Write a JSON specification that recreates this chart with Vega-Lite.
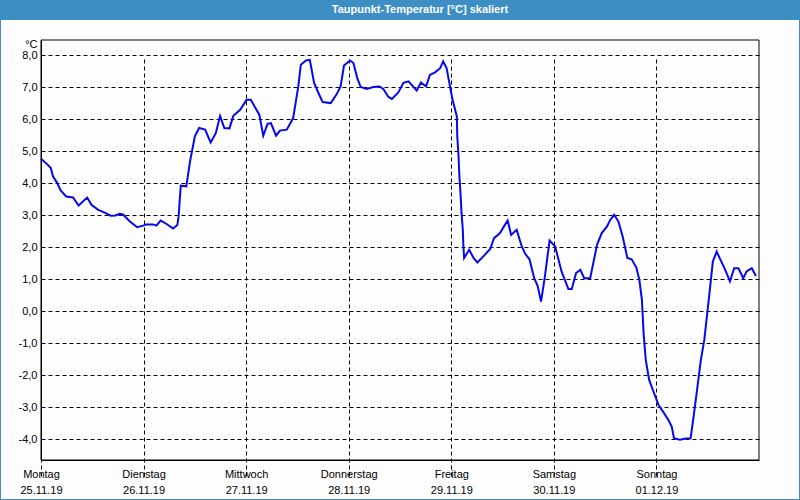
{
  "$schema": "https://vega.github.io/schema/vega-lite/v6.json",
  "autosize": "none",
  "width": 798,
  "height": 479,
  "padding": {"left": 1, "right": 1, "top": 20, "bottom": 1},
  "background": "#3d8ec5",
  "title": {
    "text": "Taupunkt-Temperatur [°C] skaliert",
    "color": "#ffffff",
    "font": "Liberation Sans",
    "fontSize": 11,
    "fontWeight": "bold",
    "anchor": "middle",
    "frame": "group",
    "baseline": "middle",
    "offset": 10,
    "dx": 20,
    "dy": 11
  },
  "config": {
    "view": {"fill": "#fcfdfc", "stroke": null},
    "axis": {
      "labelFont": "Liberation Sans",
      "labelFontSize": 11,
      "labelColor": "#000000",
      "titleFont": "Liberation Sans",
      "titleFontSize": 11,
      "titleFontWeight": "normal",
      "titleColor": "#000000",
      "domainColor": "#000000",
      "domainWidth": 1,
      "gridColor": "#000000",
      "gridDash": [4, 3],
      "gridOpacity": 1,
      "gridWidth": 1,
      "ticks": false
    }
  },
  "data": {
    "values": [
      {"h": 0.0, "v": 4.76}, {"h": 1.6, "v": 4.57}, {"h": 2.3, "v": 4.47}, {"h": 2.8, "v": 4.21},
      {"h": 3.8, "v": 4.0}, {"h": 4.6, "v": 3.77}, {"h": 5.9, "v": 3.58}, {"h": 7.5, "v": 3.55},
      {"h": 8.8, "v": 3.3}, {"h": 10.8, "v": 3.55}, {"h": 11.8, "v": 3.32}, {"h": 13.3, "v": 3.17},
      {"h": 14.9, "v": 3.08}, {"h": 16.3, "v": 2.98}, {"h": 17.4, "v": 2.99}, {"h": 18.4, "v": 3.04},
      {"h": 19.2, "v": 3.02}, {"h": 20.8, "v": 2.8}, {"h": 22.5, "v": 2.62}, {"h": 23.9, "v": 2.67},
      {"h": 24.6, "v": 2.71}, {"h": 26.2, "v": 2.71}, {"h": 27.0, "v": 2.67}, {"h": 28.0, "v": 2.83},
      {"h": 29.3, "v": 2.73}, {"h": 30.9, "v": 2.58}, {"h": 31.9, "v": 2.69}, {"h": 32.2, "v": 2.96},
      {"h": 32.7, "v": 3.92}, {"h": 34.0, "v": 3.9}, {"h": 34.9, "v": 4.7}, {"h": 36.0, "v": 5.46},
      {"h": 37.0, "v": 5.72}, {"h": 38.4, "v": 5.67}, {"h": 39.7, "v": 5.27}, {"h": 40.9, "v": 5.56},
      {"h": 41.9, "v": 6.1}, {"h": 42.9, "v": 5.72}, {"h": 44.1, "v": 5.71}, {"h": 45.0, "v": 6.1},
      {"h": 46.6, "v": 6.29}, {"h": 48.1, "v": 6.6}, {"h": 49.1, "v": 6.6}, {"h": 51.1, "v": 6.13},
      {"h": 52.0, "v": 5.48}, {"h": 53.0, "v": 5.85}, {"h": 53.8, "v": 5.87}, {"h": 55.0, "v": 5.48},
      {"h": 55.9, "v": 5.64}, {"h": 57.5, "v": 5.67}, {"h": 59.0, "v": 6.03}, {"h": 60.2, "v": 7.02},
      {"h": 60.8, "v": 7.7}, {"h": 62.0, "v": 7.83}, {"h": 62.9, "v": 7.85}, {"h": 63.9, "v": 7.13},
      {"h": 65.1, "v": 6.76}, {"h": 65.9, "v": 6.53}, {"h": 67.8, "v": 6.5}, {"h": 69.2, "v": 6.78},
      {"h": 70.1, "v": 7.02}, {"h": 70.9, "v": 7.67}, {"h": 72.3, "v": 7.83}, {"h": 73.1, "v": 7.75},
      {"h": 74.0, "v": 7.28}, {"h": 74.8, "v": 7.0}, {"h": 76.2, "v": 6.94}, {"h": 77.8, "v": 7.0},
      {"h": 79.2, "v": 7.02}, {"h": 80.1, "v": 6.94}, {"h": 81.3, "v": 6.69}, {"h": 82.1, "v": 6.63},
      {"h": 83.6, "v": 6.83}, {"h": 84.8, "v": 7.13}, {"h": 86.0, "v": 7.18}, {"h": 87.9, "v": 6.89},
      {"h": 88.9, "v": 7.14}, {"h": 90.1, "v": 7.02}, {"h": 91.0, "v": 7.38}, {"h": 92.2, "v": 7.46},
      {"h": 93.4, "v": 7.59}, {"h": 94.1, "v": 7.8}, {"h": 94.9, "v": 7.59}, {"h": 95.7, "v": 7.02},
      {"h": 96.3, "v": 6.6}, {"h": 96.9, "v": 6.29}, {"h": 97.3, "v": 6.08}, {"h": 97.4, "v": 5.46},
      {"h": 97.7, "v": 4.83}, {"h": 97.9, "v": 4.21}, {"h": 98.2, "v": 3.58}, {"h": 98.4, "v": 3.06},
      {"h": 98.7, "v": 2.54}, {"h": 98.8, "v": 2.13}, {"h": 99.0, "v": 1.66}, {"h": 100.2, "v": 1.92},
      {"h": 101.2, "v": 1.66}, {"h": 102.1, "v": 1.52}, {"h": 103.5, "v": 1.71}, {"h": 105.1, "v": 1.94},
      {"h": 106.0, "v": 2.28}, {"h": 107.4, "v": 2.44}, {"h": 108.3, "v": 2.64}, {"h": 109.2, "v": 2.83},
      {"h": 110.0, "v": 2.38}, {"h": 111.3, "v": 2.54}, {"h": 112.5, "v": 2.02}, {"h": 113.3, "v": 1.79},
      {"h": 114.3, "v": 1.62}, {"h": 115.4, "v": 1.03}, {"h": 116.2, "v": 0.79}, {"h": 117.0, "v": 0.3},
      {"h": 117.9, "v": 1.08}, {"h": 119.0, "v": 2.21}, {"h": 120.3, "v": 2.02}, {"h": 121.8, "v": 1.24},
      {"h": 123.4, "v": 0.69}, {"h": 124.2, "v": 0.69}, {"h": 125.2, "v": 1.19}, {"h": 126.2, "v": 1.29},
      {"h": 127.1, "v": 1.03}, {"h": 128.5, "v": 1.03}, {"h": 130.1, "v": 2.07}, {"h": 131.2, "v": 2.44},
      {"h": 132.4, "v": 2.64}, {"h": 133.2, "v": 2.85}, {"h": 134.1, "v": 3.01}, {"h": 135.1, "v": 2.8},
      {"h": 136.1, "v": 2.33}, {"h": 137.2, "v": 1.66}, {"h": 138.2, "v": 1.62}, {"h": 139.3, "v": 1.36},
      {"h": 140.0, "v": 0.98}, {"h": 140.6, "v": 0.35}, {"h": 141.0, "v": -0.69}, {"h": 141.5, "v": -1.52},
      {"h": 142.3, "v": -2.15}, {"h": 143.3, "v": -2.51}, {"h": 144.5, "v": -2.93}, {"h": 145.7, "v": -3.17},
      {"h": 146.8, "v": -3.4}, {"h": 147.6, "v": -3.61}, {"h": 148.1, "v": -3.97}, {"h": 149.5, "v": -4.02},
      {"h": 150.9, "v": -3.98}, {"h": 152.0, "v": -3.97}, {"h": 152.8, "v": -3.19}, {"h": 153.6, "v": -2.36},
      {"h": 154.4, "v": -1.52}, {"h": 155.2, "v": -0.9}, {"h": 155.9, "v": -0.06}, {"h": 156.5, "v": 0.67},
      {"h": 157.2, "v": 1.55}, {"h": 158.1, "v": 1.86}, {"h": 159.0, "v": 1.6}, {"h": 160.1, "v": 1.29},
      {"h": 161.2, "v": 0.93}, {"h": 162.2, "v": 1.34}, {"h": 163.2, "v": 1.34}, {"h": 164.3, "v": 1.03},
      {"h": 165.1, "v": 1.24}, {"h": 166.3, "v": 1.34}, {"h": 167.3, "v": 1.1}
    ]
  },
  "layer": [
    {
      "mark": {"type": "line", "color": "#0808e8", "strokeWidth": 2},
      "encoding": {
        "x": {
          "field": "h",
          "type": "quantitative",
          "scale": {"domain": [0, 168], "range": [40, 758], "nice": false, "zero": false},
          "axis": {
            "values": [0, 24, 48, 72, 96, 120, 144],
            "tickCount": 30,
            "labelExpr": "[['Montag','Dienstag','Mittwoch','Donnerstag','Freitag','Samstag','Sonntag'][datum.value/24], ['25.11.19','26.11.19','27.11.19','28.11.19','29.11.19','30.11.19','01.12.19'][datum.value/24]]",
            "title": null,
            "offset": -39,
            "labelPadding": 8,
            "labelFlush": false,
            "labelOverlap": false,
            "labelAlign": "center",
            "labelBaseline": "top",
            "labelLineHeight": 16,
            "grid": true
          }
        },
        "y": {
          "field": "v",
          "type": "quantitative",
          "scale": {"domain": [-4.65, 8.47], "range": [440, 20], "nice": false, "zero": false},
          "axis": {
            "values": [-4, -3, -2, -1, 0, 1, 2, 3, 4, 5, 6, 7, 8],
            "tickCount": 30,
            "labelExpr": "replace(replace(format(datum.value, '.1f'), '.', ','), '−', '-')",
            "labelOverlap": false,
            "title": "°C",
            "titleAngle": 0,
            "titleAlign": "right",
            "titleBaseline": "middle",
            "titleX": -4,
            "titleY": 24,
            "offset": -40,
            "labelPadding": 4,
            "grid": true
          }
        }
      }
    },
    {
      "data": {"values": [{}]},
      "mark": {"type": "rect", "fillOpacity": 0, "stroke": "#000000", "strokeWidth": 1},
      "encoding": {
        "x": {"datum": 0},
        "x2": {"datum": 168},
        "y": {"datum": -4.65},
        "y2": {"datum": 8.47}
      }
    }
  ]
}
